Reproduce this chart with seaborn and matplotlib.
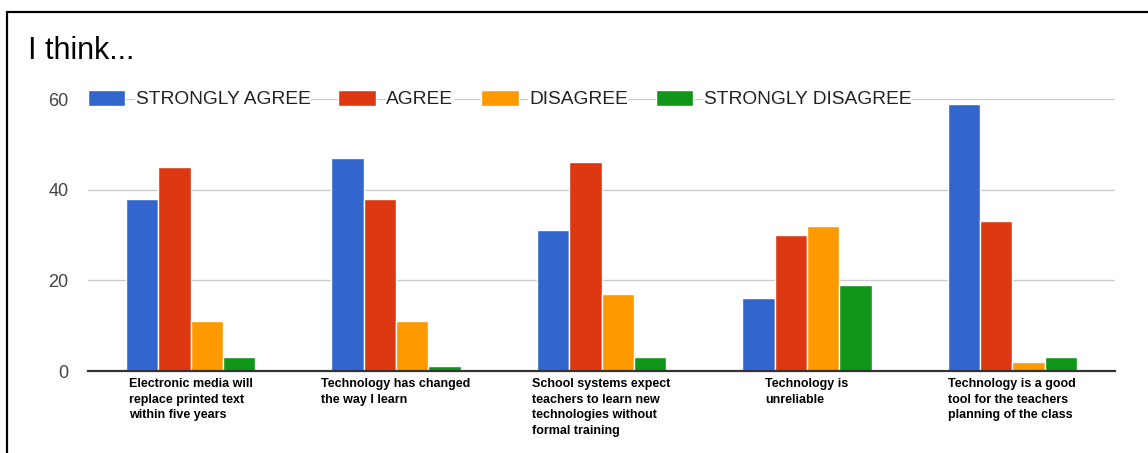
import numpy as np
import pandas as pd
import matplotlib.pyplot as plt
from matplotlib.lines import Line2D
import seaborn as sns

# Survey answers
statements = [
    "Electronic media will\nreplace printed text\nwithin five years",
    "Technology has changed\nthe way I learn",
    "School systems expect\nteachers to learn new\ntechnologies without\nformal training",
    "Technology is\nunreliable",
    "Technology is a good\ntool for the teachers\nplanning of the class",
]
answers = ["STRONGLY AGREE", "AGREE", "DISAGREE", "STRONGLY DISAGREE"]
strongly_agree = [38, 47, 31, 16, 59]
agree = [45, 38, 46, 30, 33]
disagree = [11, 11, 17, 32, 2]
strongly_disagree = [3, 1, 3, 19, 3]
colors = ["#3366CC", "#DC3912", "#FF9900", "#109618"]

df = pd.DataFrame({
    "statement": statements * 4,
    "answer": np.repeat(answers, len(statements)),
    "count": strongly_agree + agree + disagree + strongly_disagree,
})

sns.set_theme(style="white")
plt.rcParams['font.family'] = ['Liberation Sans', 'DejaVu Sans']

W, H = 1148, 453
fig = plt.figure(figsize=(W / 100, H / 100), dpi=100)
ax = fig.add_axes([88 / W, 1 - 371 / H, (1115 - 88) / W, (371 - 99) / H])

sns.barplot(data=df, x="statement", y="count", hue="answer", order=statements,
            hue_order=answers, palette=colors, saturation=1, width=0.63, gap=0,
            edgecolor="white", linewidth=1, ax=ax, zorder=3)

ax.set_xlim(-0.5, 4.5)
ax.set_ylim(0, 60)
ax.set_yticks([0, 20, 40, 60])
ax.set_xlabel("")
ax.set_ylabel("")
ax.grid(axis="y", color="#cccccc", linewidth=1, zorder=0)
ax.set_axisbelow(True)
for side in ["left", "right", "top"]:
    ax.spines[side].set_visible(False)
ax.spines["bottom"].set_color("#333333")
ax.spines["bottom"].set_linewidth(1.6)
ax.spines["bottom"].set_zorder(4)
ax.tick_params(axis="y", length=0, pad=14, labelsize=13, labelcolor="#444444")
ax.tick_params(axis="x", length=0, pad=5)
for lab in ax.get_xticklabels():
    lab.set_fontsize(9)
    lab.set_fontweight("bold")
    lab.set_color("black")
    lab.set_ha("center")
    lab.set_va("top")
    lab.set_multialignment("left")
    lab.set_linespacing(1.4)

leg = ax.legend(ncol=4, frameon=False, loc="center left",
                bbox_to_anchor=(0.0, 1.0), fontsize=13.8,
                handlelength=1.95, handleheight=0.95, handletextpad=0.55,
                columnspacing=1.45, borderaxespad=0, borderpad=0)
for txt in leg.get_texts():
    txt.set_color("#222222")
    txt.set_bbox(dict(facecolor="white", edgecolor="none", pad=0.5))
leg.set_zorder(5)

fig.text(28 / W, 1 - 59 / H, "I think...", fontsize=22, va="baseline",
         ha="left", color="black")

# frame around the chart (top and left edge visible)
fig.add_artist(Line2D([7 / W, 1], [1 - 12 / H, 1 - 12 / H],
                      color="black", linewidth=1.6, transform=fig.transFigure))
fig.add_artist(Line2D([7 / W, 7 / W], [0, 1 - 12 / H],
                      color="black", linewidth=1.6, transform=fig.transFigure))

fig.savefig("out.png", dpi=100)
